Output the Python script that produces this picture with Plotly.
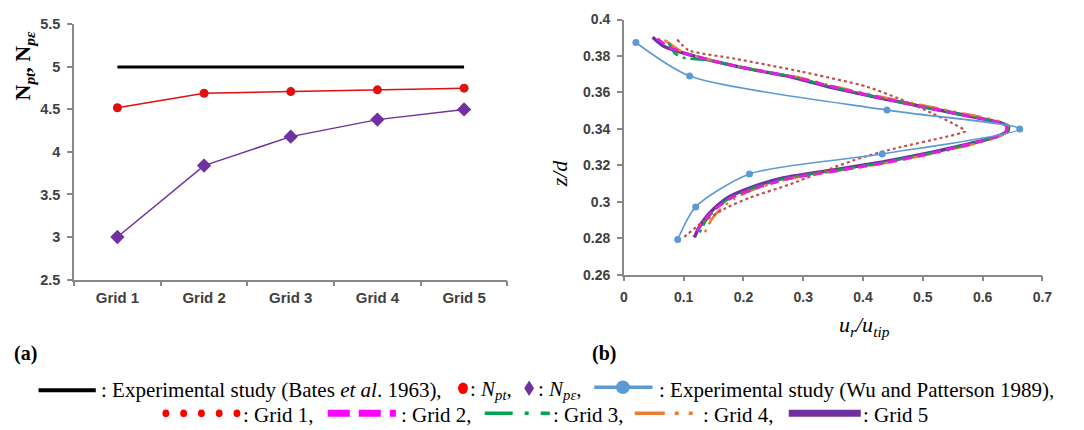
import plotly.graph_objects as go

W, H = 1084, 430

# ---------------- data: (a) power number vs. grid ----------------
grids = ["Grid 1", "Grid 2", "Grid 3", "Grid 4", "Grid 5"]
np_exp = [5.0, 5.0, 5.0, 5.0, 5.0]
np_t = [4.52, 4.69, 4.71, 4.73, 4.75]
np_e = [3.00, 3.84, 4.18, 4.38, 4.50]

# ---------------- data: (b) radial velocity profiles ----------------
wu_u = [0.02, 0.11, 0.44, 0.662, 0.432, 0.21, 0.12, 0.09]
wu_z = [0.3874, 0.3690, 0.3503, 0.3400, 0.3262, 0.3153, 0.2972, 0.2793]

g1_u = [0.089, 0.108, 0.186, 0.296, 0.406, 0.461, 0.516, 0.550, 0.571,
        0.530, 0.460, 0.400, 0.340, 0.277, 0.211, 0.168, 0.129, 0.100]
g1_z = [0.3890, 0.3832, 0.3785, 0.3715, 0.3632, 0.3565, 0.3485, 0.3430, 0.3388,
        0.3350, 0.3298, 0.3245, 0.3175, 0.3095, 0.3023, 0.2961, 0.2882, 0.2805]

g2_u = [0.056, 0.074, 0.100, 0.150, 0.210, 0.290, 0.360, 0.430, 0.505, 0.565, 0.604,
        0.631, 0.640, 0.639, 0.622, 0.585, 0.520, 0.440, 0.360, 0.276, 0.216, 0.179,
        0.152, 0.136, 0.124, 0.116]
g2_z = [0.3895, 0.3850, 0.3818, 0.3772, 0.3730, 0.3680, 0.3622, 0.3570, 0.3518, 0.3478,
        0.3452, 0.3430, 0.3413, 0.3386, 0.3358, 0.3322, 0.3270, 0.3216, 0.3172, 0.3128,
        0.3070, 0.3020, 0.2958, 0.2902, 0.2850, 0.2808]

g3_u = [0.075, 0.085, 0.100, 0.145, 0.205, 0.285, 0.355, 0.425, 0.502, 0.562, 0.602,
        0.632, 0.641, 0.640, 0.624, 0.586, 0.518, 0.436, 0.355, 0.272, 0.213, 0.178,
        0.153, 0.139, 0.130, 0.124]
g3_z = [0.3872, 0.3815, 0.3790, 0.3775, 0.3732, 0.3684, 0.3624, 0.3573, 0.3520, 0.3480,
        0.3454, 0.3432, 0.3414, 0.3387, 0.3359, 0.3323, 0.3271, 0.3217, 0.3173, 0.3130,
        0.3072, 0.3022, 0.2960, 0.2905, 0.2855, 0.2805]

g4_u = [0.068, 0.080, 0.098, 0.145, 0.205, 0.288, 0.358, 0.428, 0.508, 0.568, 0.608,
        0.634, 0.642, 0.640, 0.626, 0.590, 0.522, 0.440, 0.358, 0.276, 0.218, 0.184,
        0.160, 0.146, 0.138, 0.132]
g4_z = [0.3888, 0.3860, 0.3822, 0.3778, 0.3733, 0.3686, 0.3628, 0.3578, 0.3525, 0.3485,
        0.3458, 0.3435, 0.3416, 0.3386, 0.3356, 0.3320, 0.3268, 0.3214, 0.3170, 0.3126,
        0.3068, 0.3016, 0.2955, 0.2900, 0.2850, 0.2805]

g5_u = [0.048, 0.066, 0.090, 0.140, 0.200, 0.280, 0.350, 0.420, 0.500, 0.560, 0.600,
        0.630, 0.643, 0.642, 0.626, 0.587, 0.516, 0.433, 0.351, 0.268, 0.210, 0.175,
        0.150, 0.135, 0.125, 0.118]
g5_z = [0.3903, 0.3855, 0.3825, 0.3780, 0.3735, 0.3685, 0.3625, 0.3575, 0.3522, 0.3482,
        0.3455, 0.3433, 0.3415, 0.3388, 0.3360, 0.3325, 0.3272, 0.3219, 0.3175, 0.3132,
        0.3075, 0.3025, 0.2960, 0.2905, 0.2855, 0.2805]

BLACK = "#000000"
RED = "#e01010"
PURPLE = "#7030a0"
BLUE = "#5b9bd5"
G1C = "#c0504d"
G2C = "#e020e0"
G3C = "#00a550"
G4C = "#ed7d31"
AXC = "#888888"
TXT = "#404040"
SERIF = "Liberation Serif"
SANS = "Liberation Sans"


def px(x):
    return x / W


def py(y):
    return 1 - y / H


fig = go.Figure()

# (a)
fig.add_trace(go.Scatter(x=grids, y=np_exp, mode="lines", line=dict(color=BLACK, width=3),
                         xaxis="x", yaxis="y", showlegend=False))
fig.add_trace(go.Scatter(x=grids, y=np_t, mode="lines+markers", line=dict(color=RED, width=1.5),
                         marker=dict(symbol="circle", size=9, color=RED),
                         xaxis="x", yaxis="y", showlegend=False))
fig.add_trace(go.Scatter(x=grids, y=np_e, mode="lines+markers", line=dict(color=PURPLE, width=1.5),
                         marker=dict(symbol="diamond", size=11, color=PURPLE),
                         xaxis="x", yaxis="y", showlegend=False))

# (b)
for u, z, color, width, dash in [
    (g5_u, g5_z, PURPLE, 3.5, "solid"),
    (g4_u, g4_z, G4C, 2.5, "20px,6px,3px,6px,3px,6px"),
    (g3_u, g3_z, G3C, 2.5, "16px,5px,3px,5px"),
    (g2_u, g2_z, G2C, 3, "9px,6px"),
    (g1_u, g1_z, G1C, 2.2, "dot"),
]:
    fig.add_trace(go.Scatter(x=u, y=z, mode="lines",
                             line=dict(color=color, width=width, dash=dash, shape="spline", smoothing=0.6),
                             xaxis="x2", yaxis="y2", showlegend=False))
fig.add_trace(go.Scatter(x=wu_u, y=wu_z, mode="lines+markers",
                         line=dict(color=BLUE, width=1.6, shape="spline", smoothing=0.7),
                         marker=dict(size=7, color=BLUE),
                         xaxis="x2", yaxis="y2", showlegend=False))


def axis_style(size):
    return dict(showline=True, linecolor=AXC, linewidth=1.5, ticks="outside", tickcolor=AXC,
                ticklen=5, tickwidth=1.5, showgrid=False, zeroline=False, ticklabelstandoff=4,
                tickfont=dict(family=SANS, size=size, color=TXT, weight="bold"))


fig.update_layout(
    width=W, height=H,
    margin=dict(l=0, r=0, t=0, b=0),
    paper_bgcolor="white", plot_bgcolor="white",
    xaxis=dict(domain=[px(71), px(510)], type="category", tickson="boundaries",
               range=[-0.5, 4.5], anchor="y", **axis_style(15)),
    yaxis=dict(domain=[py(282), py(17)], range=[2.5, 5.5], dtick=0.5, anchor="x", **axis_style(14.5)),
    xaxis2=dict(domain=[px(628), px(1052)], range=[0, 0.7], dtick=0.1, anchor="y2", **axis_style(14)),
    yaxis2=dict(domain=[py(277), py(12)], range=[0.26, 0.4], dtick=0.02, anchor="x2", **axis_style(14)),
)

ann = []


def text_at(x, y, text, size, angle=0):
    ann.append(dict(x=px(x), y=py(y), xref="paper", yref="paper", xanchor="center", yanchor="middle",
                    textangle=angle, showarrow=False, text=text,
                    font=dict(family=SERIF, size=size, color=BLACK)))


# axis titles and panel labels
text_at(20, 60, "<b>N</b><sub><b><i>pt</i></b></sub><b>, N</b><sub><b><i>p\u03b5</i></b></sub>", 22, -90)
text_at(563, 172, "<i>z/d</i>", 22, -90)
text_at(872, 330, "<i>u<sub>r</sub>/u<sub>tip</sub></i>", 22)
text_at(22, 359, "<b>(a)</b>", 20)
text_at(608, 359, "<b>(b)</b>", 20)

# legend rows drawn beneath the panels
R1, R2 = 397, 423
lfont = dict(family=SERIF, size=21, color=BLACK)


def label(x, y, text):
    ann.append(dict(x=px(x), y=py(y), xref="paper", yref="paper", xanchor="left", yanchor="middle",
                    showarrow=False, text=text, font=lfont))


shapes = []


def sample(x0, x1, y, color, width, dash="solid"):
    shapes.append(dict(type="line", xref="paper", yref="paper", x0=px(x0), x1=px(x1),
                       y0=py(y), y1=py(y), line=dict(color=color, width=width, dash=dash)))


def dot(cx, cy, rx, ry, color):
    shapes.append(dict(type="circle", xref="paper", yref="paper", x0=px(cx - rx), x1=px(cx + rx),
                       y0=py(cy + ry), y1=py(cy - ry), fillcolor=color, line=dict(width=0)))


def diamond(cx, cy, rx, ry, color):
    path = (f"M{px(cx)},{py(cy - ry)} L{px(cx + rx)},{py(cy)} "
            f"L{px(cx)},{py(cy + ry)} L{px(cx - rx)},{py(cy)} Z")
    shapes.append(dict(type="path", xref="paper", yref="paper", path=path,
                       fillcolor=color, line=dict(width=0)))


sample(35, 93, R1, BLACK, 4)
label(96, R1, ": Experimental study (Bates <i>et al</i>. 1963),")
dot(465, R1 - 2, 5, 6, "#ff0000")
label(470, R1, ": <i>N<sub>pt</sub></i>,")
diamond(532, R1 - 2, 5, 8, PURPLE)
label(539, R1, ": <i>N<sub>p\u03b5</sub></i>,")
sample(598, 657, R1 - 3, BLUE, 3.5)
dot(627, R1 - 3, 7, 7, BLUE)
label(662, R1, ": Experimental study (Wu and Patterson 1989),")

for cx in [164, 182, 200, 218, 236]:
    dot(cx, R2 - 2, 3.5, 4, "#ff0000")
label(240, R2, ": Grid 1,")
sample(328, 397, R2 - 2, "#ff00ff", 7, "22px,9px")
label(400, R2, ": Grid 2,")
sample(487, 553, R2 - 2, G3C, 3.5, "28px,12px,4px,12px")
label(554, R2, ": Grid 3,")
sample(639, 705, R2 - 2, G4C, 3.5, "30px,10px,4px,10px,4px,10px")
label(706, R2, ": Grid 4,")
sample(795, 868, R2 - 2, PURPLE, 7)
label(868, R2, ": Grid 5")

fig.update_layout(annotations=ann, shapes=shapes)

fig.write_html("out.html")
